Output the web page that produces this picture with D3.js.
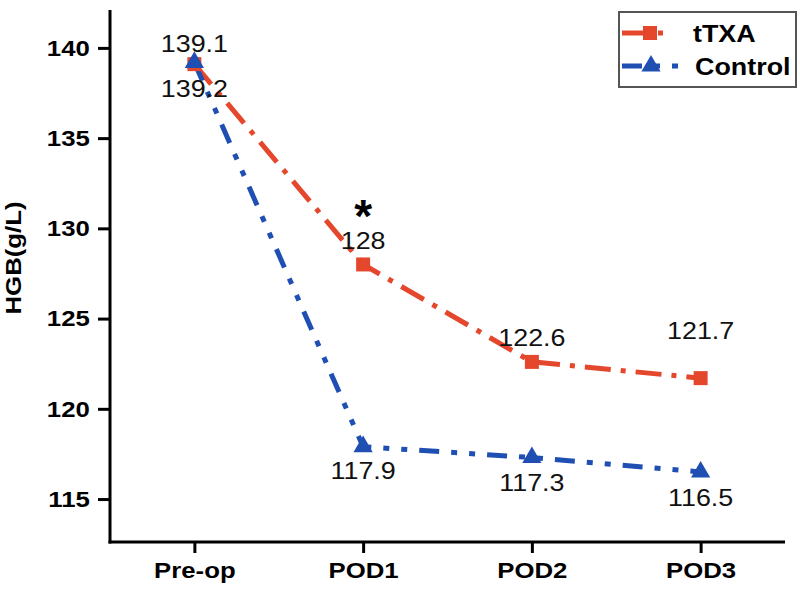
<!DOCTYPE html>
<html>
<head>
<meta charset="utf-8">
<script src="https://cdn.jsdelivr.net/npm/d3@7/dist/d3.min.js"></script>
<style>
html,body{margin:0;padding:0;background:#fff;}
svg{display:block;font-family:"Liberation Sans",Arial,sans-serif;}
</style>
</head>
<body>
<svg id="chart" width="800" height="590"></svg>
<script>
// ---- data ----
const categories = ["Pre-op", "POD1", "POD2", "POD3"];
const seriesNames = ["tTXA", "Control"];
const tTXA = [139.1, 128, 122.6, 121.7];
const control = [139.2, 117.9, 117.3, 116.5];
const yTicks = [115, 120, 125, 130, 135, 140];
const significance = ["", "*", "", ""];
const yLabel = "HGB(g/L)";

// ---- layout / style (not data) ----
const plotLeft = 110, plotRight = 785, plotTop = 10, plotBottom = 542;
const red = "#e4472c", blue = "#1f4fb2";
const stretch = 1.12;
const tTXALabelDy = [-12, -15, -16, -39];
const controlLabelDy = [35, 32, 33, 34];

const svg = d3.select("#chart");

const x = d3.scalePoint().domain(categories).range([plotLeft, plotRight]).padding(0.5);
const y = d3.scaleLinear().domain([112.62, 142.1]).range([plotBottom, plotTop]);

// axes
const yAxis = d3.axisLeft(y).tickValues(yTicks).tickSize(12).tickPadding(6).tickSizeOuter(0);
const gy = svg.append("g").attr("transform", `translate(${plotLeft},0)`).call(yAxis);
gy.select(".domain").remove();
gy.selectAll(".tick line").attr("stroke", "#000").attr("stroke-width", 3);
gy.selectAll(".tick text")
  .attr("fill", "#000").attr("font-size", 23).attr("font-weight", "bold")
  .attr("font-family", "'Liberation Sans', Arial, sans-serif")
  .attr("transform", `scale(${stretch},1)`);

const xAxis = d3.axisBottom(x).tickSize(11).tickPadding(9).tickSizeOuter(0);
const gx = svg.append("g").attr("transform", `translate(0,${plotBottom})`).call(xAxis);
gx.select(".domain").remove();
gx.selectAll(".tick line").attr("stroke", "#000").attr("stroke-width", 3);
gx.selectAll(".tick text")
  .attr("fill", "#000").attr("font-size", 23).attr("font-weight", "bold")
  .attr("font-family", "'Liberation Sans', Arial, sans-serif")
  .attr("transform", `scale(${stretch},1)`);

// axis lines
svg.append("line").attr("x1", plotLeft).attr("x2", plotLeft).attr("y1", plotTop).attr("y2", plotBottom + 1.5)
  .attr("stroke", "#000").attr("stroke-width", 3);
svg.append("line").attr("x1", plotLeft - 1.5).attr("x2", plotRight).attr("y1", plotBottom).attr("y2", plotBottom)
  .attr("stroke", "#000").attr("stroke-width", 3);

// y label
svg.append("text")
  .attr("transform", `translate(21,258) rotate(-90) scale(${stretch},1)`)
  .attr("text-anchor", "middle")
  .attr("font-size", 23).attr("font-weight", "bold")
  .text(yLabel);

const line = d3.line().x((d, i) => x(categories[i])).y(d => y(d));

const series = [
  {name: seriesNames[0], values: tTXA, color: red, dash: "26,10,5,10", symbol: d3.symbolSquare, size: 196, dy: tTXALabelDy},
  {name: seriesNames[1], values: control, color: blue, dash: "20,12,6,12,6,12", symbol: d3.symbolTriangle, size: 160, dy: controlLabelDy}
];

series.forEach(s => {
  svg.append("path")
    .attr("d", line(s.values))
    .attr("fill", "none")
    .attr("stroke", s.color)
    .attr("stroke-width", 5)
    .attr("stroke-dasharray", s.dash);
});
series.forEach(s => {
  svg.append("g").selectAll("path").data(s.values).join("path")
    .attr("d", d3.symbol(s.symbol, s.size))
    .attr("transform", (d, i) => `translate(${x(categories[i])},${y(d)})`)
    .attr("fill", s.color);
});
series.forEach(s => {
  svg.append("g").selectAll("text").data(s.values).join("text")
    .attr("transform", (d, i) => `translate(${x(categories[i])},${y(d) + s.dy[i]}) scale(${stretch},1)`)
    .attr("text-anchor", "middle")
    .attr("font-size", 24)
    .attr("fill", "#111")
    .text(d => String(d));
});

// significance marks
svg.append("g").selectAll("text").data(significance).join("text")
  .attr("x", (d, i) => x(categories[i]))
  .attr("y", (d, i) => y(tTXA[i]) - 32)
  .attr("text-anchor", "middle")
  .attr("font-size", 46).attr("font-weight", "bold")
  .attr("fill", "#000")
  .text(d => d);

// legend
const lg = svg.append("g");
lg.append("rect").attr("x", 619).attr("y", 12).attr("width", 177).attr("height", 75)
  .attr("fill", "#fff").attr("stroke", "#555").attr("stroke-width", 2);
series.forEach((s, i) => {
  const cy = 33 + i * 33;
  lg.append("line").attr("x1", 622).attr("x2", i === 0 ? 670 : 680).attr("y1", cy).attr("y2", cy)
    .attr("stroke", s.color).attr("stroke-width", 5).attr("stroke-dasharray", s.dash);
  lg.append("path").attr("d", d3.symbol(s.symbol, s.size))
    .attr("transform", `translate(${i === 0 ? 650 : 651},${cy})`).attr("fill", s.color);
  lg.append("text")
    .attr("transform", `translate(${i === 0 ? 693 : 695},${cy + 9}) scale(${stretch},1)`)
    .attr("font-size", 24).attr("font-weight", "bold").attr("fill", "#000")
    .text(s.name);
});
</script>
</body>
</html>
